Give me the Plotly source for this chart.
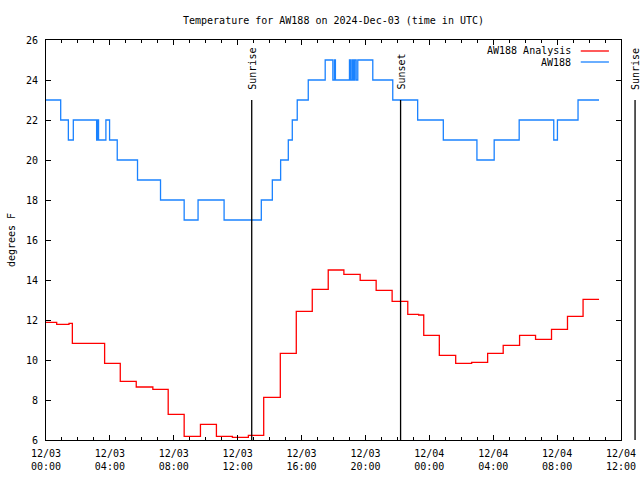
import pandas as pd
import plotly.graph_objects as go

# ---------------- data ----------------
base = pd.Timestamp("2024-12-03 00:00")

# observed station (AW188), step changes: hours since 12/03 00:00 UTC
obs_hours = [0, 0.92, 1.40, 1.71, 3.17, 3.23, 3.29, 3.75, 3.98, 4.46, 5.73, 7.17,
             8.65, 9.52, 11.15, 13.48, 14.17, 14.69, 15.17, 15.42, 15.73, 16.42,
             17.48, 17.96, 18.06, 18.12, 19.0, 19.08, 19.17, 19.25, 19.33, 19.42,
             19.52, 20.46, 21.71, 23.27, 24.875, 26.98, 28.06, 29.625, 31.79,
             32.02, 33.31, 34.625]
obs_values = [23, 22, 21, 22, 21, 22, 21, 22, 21, 20, 19, 18,
              17, 18, 17, 18, 19, 20, 21, 22, 23, 24,
              25, 24, 25, 24, 25, 24, 25, 24, 25, 24,
              25, 24, 23, 22, 21, 20, 21, 22, 21,
              22, 23, 23]

# analysis (AW188 Analysis)
ana_hours = [0, 0.67, 1.44, 1.65, 3.67, 4.65, 5.65, 6.69, 7.65, 8.65, 9.67, 10.67,
             11.67, 12.67, 13.63, 14.67, 15.67, 16.67, 17.67, 18.65, 19.67, 20.67,
             21.67, 22.65, 23.33, 23.65, 24.625, 25.65, 26.65, 27.65, 28.625,
             29.65, 30.65, 31.65, 32.65, 33.625, 34.625]
ana_values = [11.88, 11.78, 11.83, 10.83, 9.83, 8.93, 8.65, 8.53, 7.28, 6.18, 6.78, 6.18,
              6.13, 6.23, 8.13, 10.33, 12.43, 13.53, 14.5, 14.28, 13.98, 13.48,
              12.93, 12.28, 12.25, 11.23, 10.23, 9.83, 9.88, 10.33, 10.73,
              11.23, 11.03, 11.53, 12.18, 13.03, 13.03]

sun_labels = ["Sunrise", "Sunset", "Sunrise"]
sun_hours = [12.88, 22.2, 36.88]
sun_line_top = 23

x_range_hours = [0, 36]
y_range = [6, 26]

series_names = ["AW188 Analysis", "AW188"]
series_colors = ["#ff0000", "#1a82ff"]

FONT = "DejaVu Sans Mono"


def to_dt(hs):
    return [base + pd.Timedelta(hours=h) for h in hs]


def to_paper(h):
    return (h - x_range_hours[0]) / (x_range_hours[1] - x_range_hours[0])


fig = go.Figure()
fig.add_trace(go.Scatter(x=to_dt(ana_hours), y=ana_values, mode="lines",
                         name=series_names[0],
                         line=dict(color=series_colors[0], width=1.3, shape="hv")))
fig.add_trace(go.Scatter(x=to_dt(obs_hours), y=obs_values, mode="lines",
                         name=series_names[1],
                         line=dict(color=series_colors[1], width=1.3, shape="hv")))

# sunrise / sunset markers
for lab, h in zip(sun_labels, sun_hours):
    xp = to_paper(h)
    fig.add_shape(type="line", xref="paper", yref="y", x0=xp, x1=xp,
                  y0=y_range[0], y1=sun_line_top,
                  line=dict(color="black", width=1.3))
    fig.add_annotation(text=lab, xref="paper", yref="paper", x=xp, y=0.87,
                       xanchor="center", yanchor="bottom", textangle=-90,
                       showarrow=False, font=dict(family=FONT, size=10, color="black"))

# legend (gnuplot style: text right-aligned, sample line to the right)
leg_y = [0.9725, 0.945]
for name, col, ly in zip(series_names, series_colors, leg_y):
    fig.add_annotation(text=name, xref="paper", yref="paper", x=0.9165, y=ly,
                       xanchor="right", yanchor="middle", showarrow=False,
                       font=dict(family=FONT, size=10, color="black"))
    fig.add_shape(type="line", xref="paper", yref="paper", x0=0.930, x1=0.979,
                  y0=ly, y1=ly, line=dict(color=col, width=1.3))

fig.update_layout(
    width=640, height=480,
    margin=dict(l=46, r=19, t=40, b=40, autoexpand=False),
    paper_bgcolor="white", plot_bgcolor="white",
    showlegend=False,
    font=dict(family=FONT, size=10, color="black"),
    title=dict(text="Temperature for AW188 on 2024-Dec-03 (time in UTC)",
               x=0.5, xref="paper", xanchor="center",
               y=1 - 20 / 480, yref="container", yanchor="middle",
               font=dict(family=FONT, size=10, color="black")),
)

fig.update_xaxes(
    type="date", automargin=False,
    range=to_dt(x_range_hours),
    tick0=base, dtick=4 * 3600000,
    tickformat="%m/%d<br>%H:%M",
    ticks="inside", ticklen=5, tickcolor="black", tickwidth=1,
    minor=dict(ticks="inside", ticklen=3, dtick=3600000, tickcolor="black", showgrid=False),
    showgrid=False, zeroline=False,
    showline=True, linecolor="black", linewidth=1, mirror="ticks",
    tickfont=dict(family=FONT, size=10, color="black"),
    ticklabelstandoff=4,
)
fig.update_yaxes(
    range=y_range, dtick=2, tick0=6, automargin=False,
    ticks="inside", ticklen=5, tickcolor="black", tickwidth=1,
    showgrid=False, zeroline=False,
    showline=True, linecolor="black", linewidth=1, mirror="ticks",
    tickfont=dict(family=FONT, size=10, color="black"),
    ticklabelstandoff=5,
    title=dict(text="degrees F", standoff=8, font=dict(family=FONT, size=10, color="black")),
)

fig.write_html("out.html")
